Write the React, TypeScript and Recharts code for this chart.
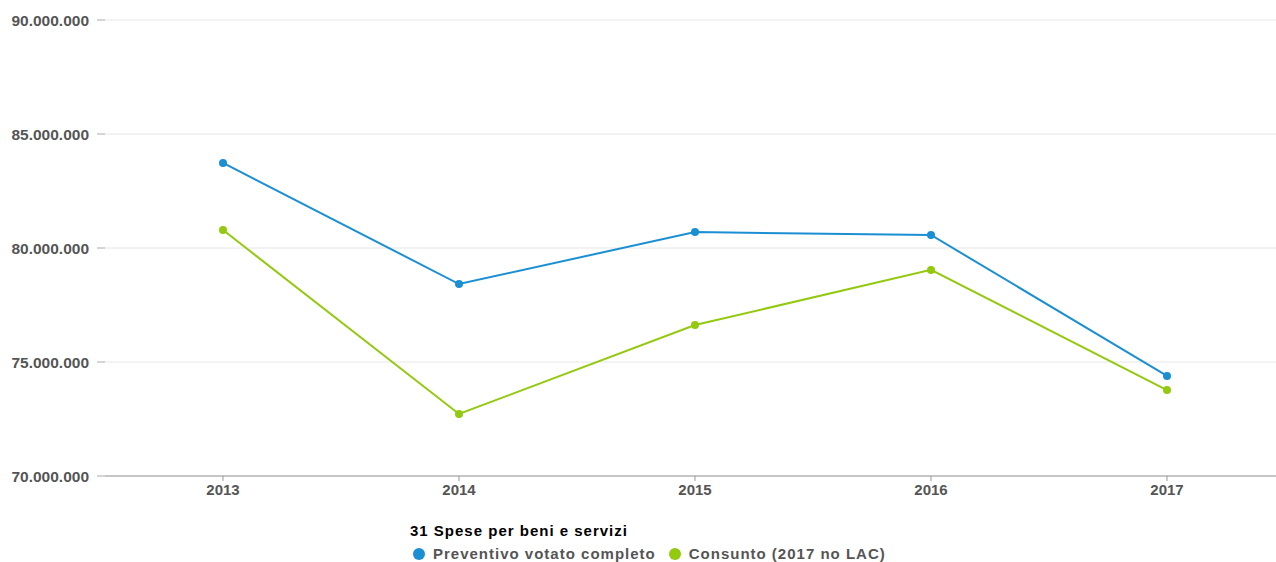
import { LineChart, Line, XAxis, YAxis, CartesianGrid, Legend } from "recharts"

const years = ["2013", "2014", "2015", "2016", "2017"]
const preventivo = [83730000, 78420000, 80700000, 80570000, 74390000]
const consunto = [80790000, 72720000, 76620000, 79040000, 73770000]
const yTicks = [70000000, 75000000, 80000000, 85000000, 90000000]

const chartTitle = "31 Spese per beni e servizi"
const seriesNames = ["Preventivo votato completo", "Consunto (2017 no LAC)"]
const seriesColors = ["#1b8fd3", "#93c90e"]

const data = years.map((year, i) => ({
  year,
  preventivo: preventivo[i],
  consunto: consunto[i]
}))

const formatNumber = (v: number) =>
  String(Math.round(v)).replace(/\B(?=(\d{3})+(?!\d))/g, ".")

const font = "'Liberation Sans', Arial, sans-serif"

const renderLegend = () => (
  <div style={{ height: 56, paddingLeft: 410, fontFamily: font, boxSizing: "border-box", paddingTop: 16 }}>
    <div style={{ fontSize: 15, fontWeight: "bold", color: "#000", lineHeight: "18px", letterSpacing: 1 }}>{chartTitle}</div>
    <div style={{ display: "flex", marginTop: 5, fontSize: 15, fontWeight: "bold", color: "#555", lineHeight: "18px", letterSpacing: 1 }}>
      {seriesNames.map((name, i) => (
        <span key={name} style={{ display: "flex", alignItems: "center", marginRight: 10 }}>
          <span style={{ display: "inline-block", width: 12, height: 12, borderRadius: 6, background: seriesColors[i], marginLeft: 3, marginRight: 8 }} />
          {name}
        </span>
      ))}
    </div>
  </div>
)

export default function App() {
  return (
    <div style={{ position: "absolute", left: 0, top: 0, width: 1276, height: 562, overflow: "hidden", background: "#fff" }}>
      <LineChart width={1290} height={562} data={data} margin={{ top: 20, right: 5, bottom: 0, left: 0 }}>
        <CartesianGrid vertical={false} stroke="#e6e6e6" />
        <XAxis
          dataKey="year"
          height={30}
          stroke="#999"
          padding={{ left: 118, right: 118 }}
          tickSize={5}
          tickMargin={3}
          tick={{ fill: "#555", fontSize: 15, fontWeight: "bold", fontFamily: font }}
        />
        <YAxis
          width={105}
          domain={[70000000, 90000000]}
          ticks={yTicks}
          axisLine={false}
          tickLine={{ stroke: "#aaa" }}
          tickSize={8}
          tickMargin={8}
          tickFormatter={formatNumber}
          tick={{ fill: "#555", fontSize: 15.5, fontWeight: "bold", fontFamily: font }}
        />
        <Legend verticalAlign="bottom" align="left" content={renderLegend} />
        <Line
          dataKey="preventivo"
          name={seriesNames[0]}
          stroke={seriesColors[0]}
          strokeWidth={2}
          dot={{ r: 4, fill: seriesColors[0], stroke: seriesColors[0], strokeWidth: 0 }}
          isAnimationActive={false}
        />
        <Line
          dataKey="consunto"
          name={seriesNames[1]}
          stroke={seriesColors[1]}
          strokeWidth={2}
          dot={{ r: 4, fill: seriesColors[1], stroke: seriesColors[1], strokeWidth: 0 }}
          isAnimationActive={false}
        />
      </LineChart>
    </div>
  )
}
